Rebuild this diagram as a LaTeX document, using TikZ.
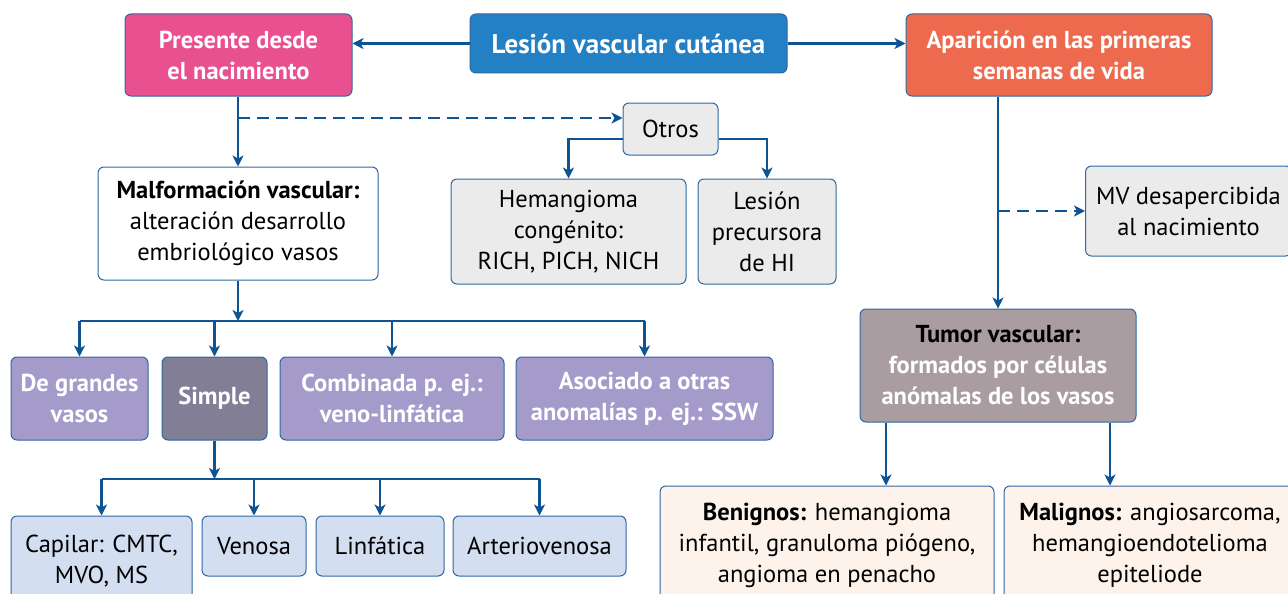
\documentclass[tikz,border=0pt]{standalone}
\usepackage{fontspec}
\setmainfont{PT Sans}
\usetikzlibrary{arrows.meta}

\definecolor{pinkhead}{HTML}{E8508F}
\definecolor{bluehead}{HTML}{2380C4}
\definecolor{orangehead}{HTML}{EE6A4E}
\definecolor{boxline}{HTML}{2F67A2}
\definecolor{arrowblue}{HTML}{0E5394}
\definecolor{greyfill}{HTML}{EBEBEB}
\definecolor{lilac}{HTML}{A59BCB}
\definecolor{lilacdark}{HTML}{827E96}
\definecolor{paleblue}{HTML}{D3DEF0}
\definecolor{mauve}{HTML}{A99DA1}
\definecolor{cream}{HTML}{FDF3EA}

\begin{document}
\begin{tikzpicture}[
    x=1pt, y=-1pt,
    font=\fontsize{24.5}{31}\selectfont,
    box/.style={draw=boxline, line width=1pt, rounded corners=6pt, align=center, inner sep=0pt},
    head/.style={box, text=white, font=\fontsize{24.5}{31}\selectfont\bfseries},
    greybox/.style={box, fill=greyfill},
    typebox/.style={head, fill=lilac},
    subbox/.style={box, fill=paleblue},
    tumbox/.style={box, fill=cream},
    arrow/.style={-{Stealth[length=11pt,width=11pt,inset=3pt]}, line width=2.2pt, draw=arrowblue},
    dasharrow/.style={arrow, dash pattern=on 12pt off 7pt},
    line/.style={line width=2.2pt, draw=arrowblue}
  ]
  \useasboundingbox (0,0) rectangle (1288,594);

  % Top row
  \node[head, fill=bluehead, font=\fontsize{27}{31}\selectfont\bfseries, minimum width=317, minimum height=59] (lesion) at (628.5,43.5) {Lesión vascular cutánea};
  \node[head, fill=pinkhead, minimum width=227, minimum height=82] (pres) at (238.5,55) {Presente desde\\el nacimiento};
  \node[head, fill=orangehead, minimum width=306, minimum height=82] (apar) at (1059,55) {Aparición en las primeras\\semanas de vida};

  \draw[arrow] (lesion.west) -- (pres.east |- lesion.west);
  \draw[arrow] (lesion.east) -- (apar.west |- lesion.east);

  % Left branch: malformations
  \node[box, fill=white, minimum width=280, minimum height=113] (malf) at (238,223.5) {\textbf{Malformación vascular:}\\alteración desarrollo\\embriológico vasos};
  \draw[arrow] (pres.south -| malf.north) -- (malf.north);

  % Others
  \node[greybox, minimum width=95, minimum height=52] (otros) at (670.5,129) {Otros};
  \node[greybox, minimum width=235, minimum height=105] (hem) at (568.5,231.5) {Hemangioma\\congénito:\\RICH, PICH, NICH};
  \node[greybox, minimum width=138, minimum height=105] (lesp) at (767,231.5) {Lesión\\precursora\\de HI};

  \coordinate (dash1) at (238,118);
  \draw[dasharrow] (dash1) -- (dash1 -| otros.west);
  \draw[arrow] ([yshift=-10pt]otros.west) -| (hem.north);
  \draw[arrow] ([yshift=-10pt]otros.east) -| (lesp.north);

  % Types of malformation
  \node[typebox, minimum width=137, minimum height=83] (grandes) at (79.5,398.5) {De grandes\\vasos};
  \node[typebox, fill=lilacdark, minimum width=105, minimum height=83] (simple) at (214.5,398.5) {Simple};
  \node[typebox, minimum width=224, minimum height=83] (comb) at (392,398.5) {Combinada p. ej.:\\veno-linfática};
  \node[typebox, minimum width=257, minimum height=83] (asoc) at (644.5,398.5) {Asociado a otras\\anomalías p. ej.: SSW};

  \coordinate (bar1) at (0,321);
  \draw[arrow] (malf.south) -- (malf.south |- bar1);
  \draw[line] (grandes.north |- bar1) -- (asoc.north |- bar1);
  \foreach \n in {grandes, simple, comb, asoc}
    \draw[arrow] (\n.north |- bar1) -- (\n.north);

  % Simple malformations
  \node[subbox, minimum width=181, minimum height=90] (capilar) at (101.5,561) {Capilar: CMTC,\\MVO, MS};
  \node[subbox, minimum width=104, minimum height=60] (venosa) at (254,546) {Venosa};
  \node[subbox, minimum width=128, minimum height=60] (linf) at (380,546) {Linfática};
  \node[subbox, minimum width=173, minimum height=60] (arter) at (539.5,546) {Arteriovenosa};

  \coordinate (bar2) at (0,479);
  \draw[arrow] (simple.south) -- (simple.south |- bar2);
  \draw[line] (capilar.north |- bar2) -- (arter.north |- bar2);
  \foreach \n in {capilar, venosa, linf, arter}
    \draw[arrow] (\n.north |- bar2) -- (\n.north);

  % Right branch: tumours
  \node[greybox, anchor=west, minimum width=206, minimum height=90] (mv) at (1085,211) {MV desapercibida\\al nacimiento};
  \node[head, fill=mauve, minimum width=276, minimum height=113] (tumor) at (998,365.5) {\textcolor{black}{Tumor vascular:}\\formados por células\\anómalas de los vasos};

  \draw[arrow] (apar.south -| tumor.north) -- (tumor.north);
  \draw[dasharrow] (tumor.north |- mv.west) -- (mv.west);

  \node[tumbox, minimum width=334, minimum height=118] (beng) at (827,545) {\textbf{Benignos:} hemangioma\\infantil, granuloma piógeno,\\angioma en penacho};
  \node[tumbox, minimum width=292, minimum height=118] (malig) at (1150,545) {\textbf{Malignos:} angiosarcoma,\\hemangioendotelioma\\epiteliode};

  \draw[arrow] ([xshift=-112pt]tumor.south) -- ([xshift=-112pt]tumor.south |- beng.north);
  \draw[arrow] ([xshift=112pt]tumor.south) -- ([xshift=112pt]tumor.south |- malig.north);

\end{tikzpicture}
\end{document}
